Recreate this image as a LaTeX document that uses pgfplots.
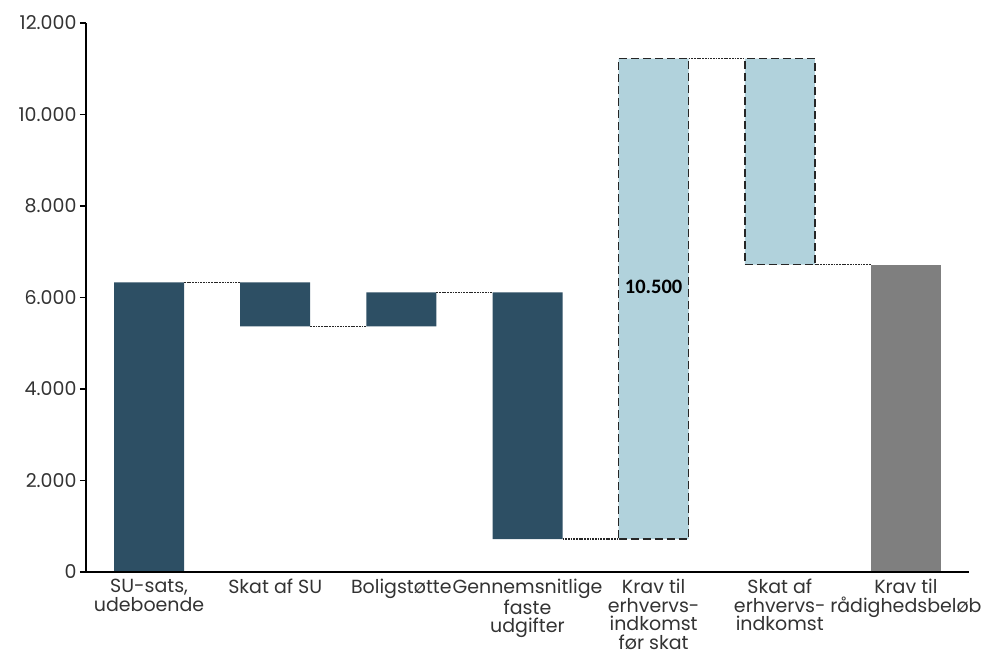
\documentclass[border=0pt]{standalone}
\usepackage{fontspec}
\usepackage{pgfplots}
\usepackage{pgfplotstable}
\pgfplotsset{compat=1.18}
\setmainfont{Poppins}
\newfontfamily\valuefont{Carlito}

\definecolor{darkbar}{HTML}{2D4F64}
\definecolor{lightbar}{HTML}{B1D2DC}
\definecolor{greybar}{HTML}{7F7F7F}

% Waterfall steps: floating base and visible height
\pgfplotstableread{
x base delta
0 0    6330
1 5370 960
2 5370 740
3 720  5390
}\darksteps
\pgfplotstableread{
x base delta
4 720  10500
5 6720 4500
}\lightsteps
\pgfplotstableread{
x total
6 6720
}\totalstep

\pgfplotsset{
  wf frame/.style={
    scale only axis, width=883pt, height=549pt,
    at={(0,0)}, anchor=south west,
    xmin=-0.5, xmax=6.5, ymin=0, ymax=12000,
    enlargelimits=false, clip=false,
  },
  conn/.style={black!85, line width=1.3pt, dash pattern=on 1.8pt off 0.9pt, mark=none},
}

\begin{document}
\begin{tikzpicture}
\path[use as bounding box] (-86pt,-81pt) rectangle (898pt,572pt);

% dark blue steps
\begin{axis}[wf frame, hide axis, ybar stacked, bar width=70pt]
  \addplot[draw=none, fill=none] table[x=x, y=base] {\darksteps};
  \addplot[draw=none, fill=darkbar] table[x=x, y=delta] {\darksteps};
\end{axis}

% light blue steps with dashed outline
\begin{axis}[wf frame, hide axis, ybar stacked, bar width=70pt]
  \addplot[draw=none, fill=none] table[x=x, y=base] {\lightsteps};
  \addplot[fill=lightbar, draw=black!85, line width=1.6pt, dash pattern=on 8pt off 4pt] table[x=x, y=delta] {\lightsteps};
\end{axis}

% axes, total bar, connectors and value label
\begin{axis}[wf frame,
  axis on top,
  axis x line=bottom, axis y line=left,
  axis line style={-, black, line width=1.3pt},
  ytick={0,2000,...,12000},
  scaled y ticks=false,
  tick align=outside, major tick length=6pt,
  y tick style={black, line width=1.3pt},
  xtick={0,...,6}, x tick style={draw=none},
  yticklabel style={font=\fontsize{19}{20}\selectfont, color=black!80,
    /pgf/number format/.cd, 1000 sep={.}, assume math mode=true},
  xticklabels={{SU-sats,\\udeboende},{Skat af SU},{Boligstøtte},
    {Gennemsnitlige\\faste\\udgifter},{Krav til\\erhvervs-\\indkomst\\før skat},
    {Skat af\\erhvervs-\\indkomst},{Krav til\\rådighedsbeløb}},
  xticklabel style={align=center, font=\fontsize{19}{18.5}\selectfont, color=black!80,
    anchor=north, inner sep=0pt, yshift=-1pt},
]
  \addplot[ybar, bar width=70pt, bar shift=0pt, draw=none, fill=greybar]
    table[x=x, y=total] {\totalstep};

  \addplot[conn] coordinates {(0.2775,6330) (0.7225,6330)};
  \addplot[conn] coordinates {(1.2775,5370) (1.7225,5370)};
  \addplot[conn] coordinates {(2.2775,6110) (2.7225,6110)};
  \addplot[conn] coordinates {(3.2775,720) (3.7225,720)};
  \addplot[conn] coordinates {(4.2775,11220) (4.7225,11220)};
  \addplot[conn] coordinates {(5.2775,6720) (5.7225,6720)};

  \node[font=\valuefont\bfseries\fontsize{20.5}{24}\selectfont] at (axis cs:4,6230) {10.500};
\end{axis}
\end{tikzpicture}
\end{document}
